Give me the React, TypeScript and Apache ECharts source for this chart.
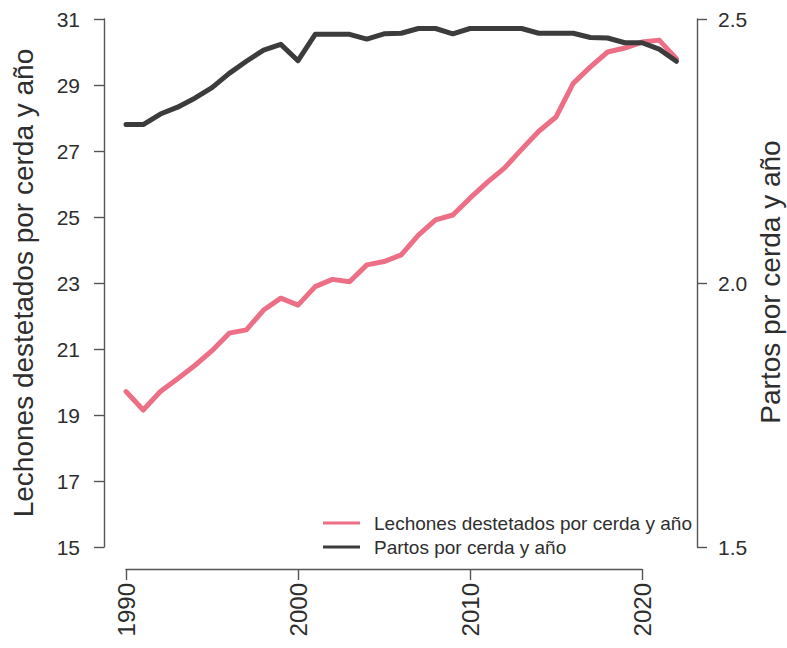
import React, { useEffect, useRef } from "react";
import * as echarts from "echarts";

const years: number[] = [
  1990, 1991, 1992, 1993, 1994, 1995, 1996, 1997, 1998, 1999, 2000,
  2001, 2002, 2003, 2004, 2005, 2006, 2007, 2008, 2009, 2010, 2011,
  2012, 2013, 2014, 2015, 2016, 2017, 2018, 2019, 2020, 2021, 2022,
];

const lechones: number[] = [
  19.71, 19.15, 19.71, 20.1, 20.5, 20.95, 21.48, 21.58, 22.18, 22.54, 22.33,
  22.89, 23.11, 23.04, 23.55, 23.65, 23.85, 24.45, 24.91, 25.06, 25.57, 26.05,
  26.48, 27.05, 27.6, 28.03, 29.05, 29.55, 30.0, 30.12, 30.3, 30.36, 29.8,
];

const partos: number[] = [
  2.3, 2.3, 2.32, 2.333, 2.35, 2.37, 2.397, 2.42, 2.441, 2.452, 2.421,
  2.471, 2.471, 2.471, 2.462, 2.472, 2.473, 2.482, 2.482, 2.472, 2.482, 2.482,
  2.482, 2.482, 2.473, 2.473, 2.473, 2.465, 2.464, 2.455, 2.455, 2.443, 2.42,
];

const leftTicks: number[] = [15, 17, 19, 21, 23, 25, 27, 29, 31];
const rightTicks: number[] = [1.5, 2.0, 2.5];
const xTicks: number[] = [1990, 2000, 2010, 2020];

const nameLechones = "Lechones destetados por cerda y año";
const namePartos = "Partos por cerda y año";

const FONT = "'Liberation Sans', Arial, Helvetica, sans-serif";
const PINK = "#ec6f86";
const DARK = "#3c3c3c";
const AXIS = "#555555";
const TEXT = "#2e2e2e";

// layout (pixels)
const PLOT_LEFT = 104;
const PLOT_RIGHT = 697;
const X_AXIS_LEFT = 126;
const X_AXIS_WIDTH = 516;

export default function App() {
  const ref = useRef<HTMLDivElement>(null);

  useEffect(() => {
    if (!ref.current) return;
    const chart = echarts.init(ref.current, null, { renderer: "svg" });
    const axisLineStyle = { color: AXIS, width: 1.4 };
    const x0 = xTicks[0];
    const x1 = xTicks[xTicks.length - 1];
    const pxPerYear = X_AXIS_WIDTH / (x1 - x0);
    const dataMin = x0 - (X_AXIS_LEFT - PLOT_LEFT) / pxPerYear;
    const dataMax = x1 + (PLOT_RIGHT - (X_AXIS_LEFT + X_AXIS_WIDTH)) / pxPerYear;

    chart.setOption({
      animation: false,
      backgroundColor: "#ffffff",
      textStyle: { fontFamily: FONT },
      grid: [
        { left: PLOT_LEFT, width: PLOT_RIGHT - PLOT_LEFT, top: 19, height: 528, containLabel: false },
        { left: X_AXIS_LEFT, width: X_AXIS_WIDTH, top: 19, height: 528, containLabel: false },
      ],
      legend: {
        data: [nameLechones, namePartos],
        orient: "vertical",
        left: 323,
        top: 512,
        padding: 0,
        itemGap: 2,
        itemWidth: 37,
        itemHeight: 3,
        icon: "rect",
        textStyle: {
          fontFamily: FONT,
          fontSize: 19,
          lineHeight: 22,
          color: TEXT,
          padding: [0, 0, 0, 9],
        },
      },
      xAxis: [
        {
          type: "value",
          gridIndex: 0,
          min: dataMin,
          max: dataMax,
          show: false,
          splitLine: { show: false },
        },
        {
          type: "value",
          gridIndex: 1,
          position: "bottom",
          min: x0,
          max: x1,
          interval: 10,
          offset: 22,
          axisLine: { show: true, onZero: false, lineStyle: axisLineStyle },
          axisTick: { show: true, inside: false, length: 11, lineStyle: axisLineStyle },
          axisLabel: {
            rotate: 90,
            margin: 14,
            fontSize: 24,
            color: TEXT,
            fontFamily: FONT,
            formatter: (v: number) => String(v),
          },
          splitLine: { show: false },
        },
      ],
      yAxis: [
        {
          type: "value",
          gridIndex: 0,
          position: "left",
          min: leftTicks[0],
          max: leftTicks[leftTicks.length - 1],
          axisLine: { show: true, onZero: false, lineStyle: axisLineStyle },
          axisTick: {
            show: true,
            inside: false,
            length: 10,
            lineStyle: axisLineStyle,
            customValues: leftTicks,
          },
          axisLabel: {
            margin: 24,
            fontSize: 21,
            color: TEXT,
            fontFamily: FONT,
            customValues: leftTicks,
          },
          splitLine: { show: false },
        },
        {
          type: "value",
          gridIndex: 0,
          position: "right",
          min: rightTicks[0],
          max: rightTicks[rightTicks.length - 1],
          interval: 0.5,
          axisLine: { show: true, onZero: false, lineStyle: axisLineStyle },
          axisTick: { show: true, inside: false, length: 10, lineStyle: axisLineStyle },
          axisLabel: {
            margin: 21,
            fontSize: 21,
            color: TEXT,
            fontFamily: FONT,
            formatter: (v: number) => v.toFixed(1),
          },
          splitLine: { show: false },
        },
        {
          type: "value",
          gridIndex: 1,
          show: false,
          min: 0,
          max: 1,
          axisLine: { show: false, onZero: false },
          splitLine: { show: false },
        },
      ],
      graphic: [
        {
          type: "text",
          x: 23,
          y: 283,
          rotation: Math.PI / 2,
          style: {
            text: nameLechones,
            fontSize: 28,
            fontFamily: FONT,
            fill: TEXT,
            textAlign: "center",
            textVerticalAlign: "middle",
          },
        },
        {
          type: "text",
          x: 770,
          y: 282,
          rotation: Math.PI / 2,
          style: {
            text: namePartos,
            fontSize: 28,
            fontFamily: FONT,
            fill: TEXT,
            textAlign: "center",
            textVerticalAlign: "middle",
          },
        },
      ],
      series: [
        {
          name: nameLechones,
          type: "line",
          xAxisIndex: 0,
          yAxisIndex: 0,
          showSymbol: false,
          color: PINK,
          lineStyle: { color: PINK, width: 5, join: "round", cap: "round" },
          data: years.map((y, i) => [y, lechones[i]]),
        },
        {
          name: namePartos,
          type: "line",
          xAxisIndex: 0,
          yAxisIndex: 1,
          showSymbol: false,
          color: DARK,
          lineStyle: { color: DARK, width: 5, join: "round", cap: "round" },
          data: years.map((y, i) => [y, partos[i]]),
        },
      ],
    });
    return () => chart.dispose();
  }, []);

  return (
    <div
      ref={ref}
      style={{ position: "fixed", left: 0, top: 0, width: 787, height: 648, background: "#fff" }}
    />
  );
}
